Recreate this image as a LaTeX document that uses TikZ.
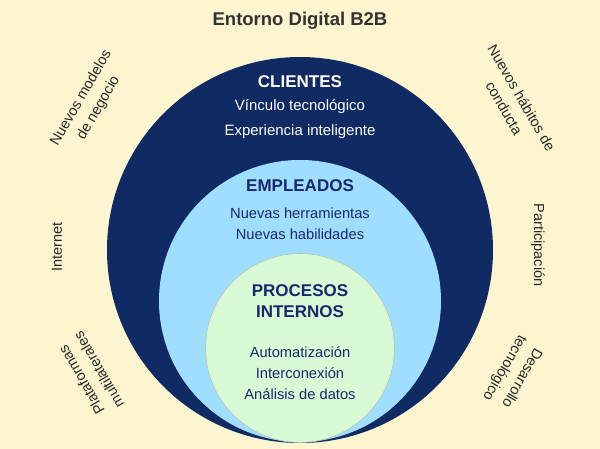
\documentclass[tikz,border=0pt]{standalone}
\usepackage{fontspec}
\setmainfont{Liberation Sans}
\definecolor{bgcream}{RGB}{252,245,208}
\definecolor{navy}{RGB}{16,42,100}
\definecolor{navytext}{RGB}{25,40,110}
\definecolor{lightblue}{RGB}{160,222,255}
\definecolor{palegreen}{RGB}{216,250,212}
\definecolor{titlegray}{RGB}{51,51,51}
\definecolor{sidegray}{RGB}{40,40,40}
\tikzset{
  titletext/.style={font=\fontsize{18.5}{22}\selectfont\bfseries, text=titlegray},
  headwhite/.style={font=\fontsize{17}{20}\selectfont\bfseries, text=white},
  itemwhite/.style={font=\fontsize{15}{18}\selectfont, text=white},
  headnavy/.style={font=\fontsize{17}{21}\selectfont\bfseries, text=navytext, align=center},
  itemnavy/.style={font=\fontsize{14.7}{18}\selectfont, text=navytext},
  sidetext/.style={font=\fontsize{14.5}{20}\selectfont, text=sidegray, align=center, inner sep=0pt}
}
\begin{document}
\begin{tikzpicture}[x=1pt,y=-1pt]
\fill[bgcream] (0,0) rectangle (600,449);
\useasboundingbox (0,0) rectangle (600,449);
\begin{scope}
\clip (0,0) rectangle (600,449);
\fill[navy] (300,250) circle[radius=193];
\fill[lightblue] (300,301) circle[radius=141];
\filldraw[fill=palegreen, draw={rgb,255:red,175;green,195;blue,185}, line width=0.6pt] (300,348) circle[radius=94.5];
\end{scope}
\node[titletext] (title) at (300,21) {Entorno Digital B2B};
\node[headwhite] (clientes) at (300,82) {CLIENTES};
\node[itemwhite] (vinculo) at (300,107) {Vínculo tecnológico};
\node[itemwhite] (experiencia) at (300,132) {Experiencia inteligente};
\node[headnavy] (empleados) at (300,186) {EMPLEADOS};
\node[itemnavy] (herramientas) at (300,213) {Nuevas herramientas};
\node[itemnavy] (habilidades) at (300,234) {Nuevas habilidades};
\node[headnavy] (procesos) at (300,301) {PROCESOS\\INTERNOS};
\node[itemnavy] (automatizacion) at (300,352) {Automatización};
\node[itemnavy] (interconexion) at (300,373) {Interconexión};
\node[itemnavy] (analisis) at (300,394) {Análisis de datos};
\node[sidetext, rotate=60] (modelos) at (90,103) {Nuevos modelos\\de negocio};
\node[sidetext, rotate=-60] (habitos) at (513,103) {Nuevos hábitos de\\conducta};
\node[sidetext, rotate=90] (internet) at (57,247) {Internet};
\node[sidetext, rotate=-90] (participacion) at (538,245) {Participación};
\node[sidetext, rotate=120] (plataformas) at (90,375) {Plataformas\\multilaterales};
\node[sidetext, rotate=-120] (desarrollo) at (513,373) {Desarrollo\\tecnológico};
\end{tikzpicture}
\end{document}
